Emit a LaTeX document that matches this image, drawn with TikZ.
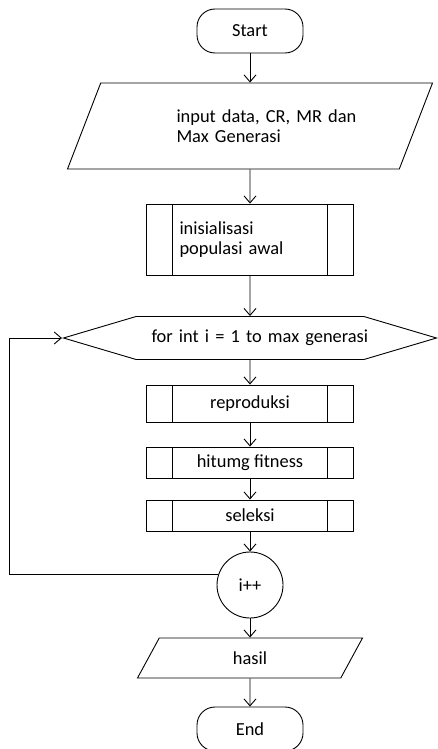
\documentclass[tikz,border=0pt]{standalone}
\usepackage{fontspec}
\setmainfont{Carlito}
\usetikzlibrary{shapes,arrows.meta}
\tikzstyle{term} = [draw, rectangle, rounded corners=18pt, minimum width=106pt, minimum height=44pt]
\tikzstyle{io} = [draw, trapezium, trapezium stretches body]
\tikzstyle{sub} = [draw, rectangle, minimum width=207pt, path picture={
  \draw ([xshift=26pt]path picture bounding box.north west) -- ([xshift=26pt]path picture bounding box.south west)
        ([xshift=-26pt]path picture bounding box.north east) -- ([xshift=-26pt]path picture bounding box.south east);}]

\begin{document}
\begin{tikzpicture}[x=1pt, y=-1pt, >={Straight Barb[length=7pt,width=12pt]}, line width=0.9pt, font=\fontsize{18.4}{20}\selectfont]
\useasboundingbox (0,0) rectangle (438,749);

\node[term] (start) at (250,31) {Start};
\node[io, trapezium left angle=50, trapezium right angle=130, minimum width=365pt, minimum height=86pt, text width=147pt, align=left, node distance=95pt, below of=start] (in) {\mbox{input data, CR, MR dan}\\Max Generasi};
\node[sub, minimum height=71pt, text width=141pt, align=left, node distance=113.5pt, below of=in] (init) {inisialisasi\\populasi awal};
\node[draw, signal, signal to=west and east, signal pointer angle=33, minimum width=373pt, minimum height=43pt, text width=197pt, align=left, node distance=98.5pt, below of=init] (loop) {\mbox{for int i = 1 to max generasi}};
\node[sub, minimum height=37pt, node distance=65.5pt, below of=loop] (rep) {reproduksi};
\node[sub, minimum height=31pt, node distance=59pt, below of=rep] (fit) {hitumg fitness};
\node[sub, minimum height=31pt, node distance=53pt, below of=fit] (sel) {seleksi};
\node[draw, circle, minimum size=66pt, inner sep=0pt, node distance=69.5pt, below of=sel] (inc) {i++};
\node[io, trapezium left angle=42, trapezium right angle=138, minimum width=225pt, minimum height=40pt, node distance=73pt, below of=inc] (out) {hasil};
\node[term, node distance=71pt, below of=out] (end) {End};

\draw[->] (start) -- (in);
\draw[->] (in) -- (init);
\draw[->] (init) -- (loop);
\draw[->] (loop) -- (rep);
\draw[->] (rep) -- (fit);
\draw[->] (fit) -- (sel);
\draw[->] (sel) -- (inc);
\draw[->] (inc) -- (out);
\draw[->] (out) -- (end);
\draw[->] (inc.162) -| ([xshift=-52pt]loop.west) -- (loop.west);

\end{tikzpicture}
\end{document}
